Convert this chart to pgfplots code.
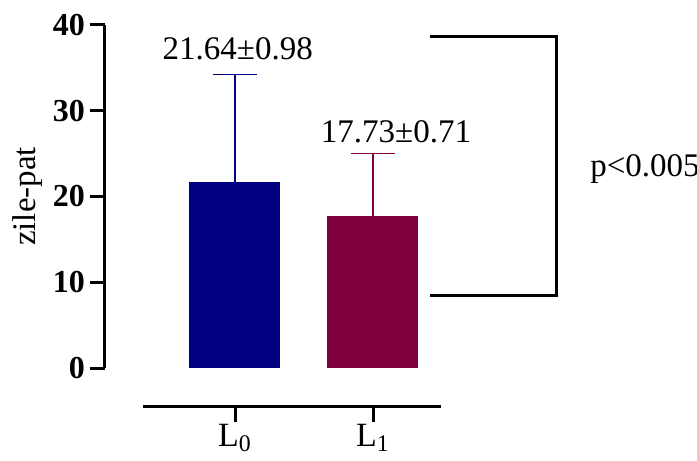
\documentclass[border=0pt]{standalone}
\usepackage{fontspec}
\setmainfont{Liberation Serif}
\usepackage{pgfplots}
\pgfplotsset{compat=1.18}
\definecolor{navybar}{RGB}{0,0,128}
\definecolor{maroonbar}{RGB}{128,0,64}
\begin{document}
\begin{tikzpicture}
\begin{axis}[
  name=main,
  x=69pt, y=4.2875pt,
  xmin=-0.942, xmax=2.4, ymin=0, ymax=40,
  axis y line=left, axis x line=none,
  axis line style={-, line width=1.5pt},
  ytick={0,10,20,30,40},
  tick align=outside,
  major tick length=7.5pt,
  every tick/.style={black, line width=1.5pt},
  yticklabel style={font=\fontsize{16}{16}\selectfont\bfseries, xshift=1pt},
  /pgf/number format/assume math mode=true,
  ylabel={zile-pat},
  ylabel style={at={(axis description cs:-0.167,0.5)}, anchor=center, font=\fontsize{16.5}{16.5}\selectfont},
  clip=false,
]
\addplot[ybar, bar width=45.5pt, bar shift=0pt, fill=navybar, draw=none,
  error bars/.cd, y dir=plus, y explicit,
  error bar style={navybar, line width=0.6pt},
  error mark options={navybar, rotate=90, mark size=11pt, line width=0.6pt}]
  coordinates {(0,21.64) +- (0,12.56)};
\addplot[ybar, bar width=45.5pt, bar shift=0pt, fill=maroonbar, draw=none,
  error bars/.cd, y dir=plus, y explicit,
  error bar style={maroonbar, line width=0.6pt},
  error mark options={maroonbar, rotate=90, mark size=11pt, line width=0.6pt}]
  coordinates {(1,17.73) +- (0,7.27)};
\addplot[black, line width=1.5pt, no marks, sharp plot, line join=miter]
  coordinates {(1.413,38.6) (2.333,38.6) (2.333,8.4) (1.413,8.4)};
\node[font=\fontsize{16.5}{16.5}\selectfont, inner sep=0pt] at (axis cs:0.02,37.2) {21.64±0.98};
\node[font=\fontsize{16.5}{16.5}\selectfont, inner sep=0pt] at (axis cs:1.167,27.5) {17.73±0.71};
\node[font=\fontsize{16.5}{16.5}\selectfont, inner sep=0pt, anchor=west] at (axis cs:2.572,23.2) {p<0.005};
\end{axis}
\begin{axis}[
  at={(19pt,-19pt)}, anchor=south west,
  x=69pt, y=1pt, xmin=-0.667, xmax=1.493, ymin=0, ymax=1,
  axis x line=bottom, axis y line=none,
  axis line style={-, line width=1.5pt},
  xtick={0,1}, xticklabels={L\textsubscript{0}, L\textsubscript{1}},
  tick align=outside, major tick length=8pt,
  every tick/.style={black, line width=1.5pt},
  xticklabel style={font=\fontsize{17}{17}\selectfont, inner sep=1pt},
]
\addplot[draw=none, mark=none] coordinates {(0,0) (1,0)};
\end{axis}
\pgfresetboundingbox
\path[use as bounding box] (-52.5pt,-46.5pt) rectangle (296pt,184pt);
\end{tikzpicture}
\end{document}
